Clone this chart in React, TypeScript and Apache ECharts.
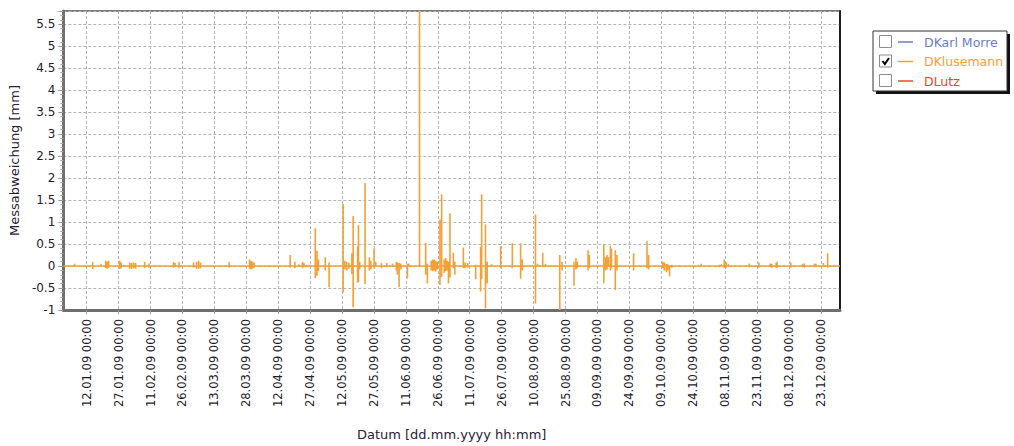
import React, { useEffect, useRef } from "react";
import * as echarts from "echarts";

// Legend entries (only DKlusemann is switched on)
const seriesNames = ["DKarl Morre", "DKlusemann", "DLutz"];
const seriesChecked = [false, true, false];

// Axis extents and ticks
const rangeStart = "2009-01-01";
const rangeEnd = "2010-01-01";
const xTickDates = [
  "2009-01-12", "2009-01-27", "2009-02-11", "2009-02-26", "2009-03-13", "2009-03-28",
  "2009-04-12", "2009-04-27", "2009-05-12", "2009-05-27", "2009-06-11", "2009-06-26",
  "2009-07-11", "2009-07-26", "2009-08-10", "2009-08-25", "2009-09-09", "2009-09-24",
  "2009-10-09", "2009-10-24", "2009-11-08", "2009-11-23", "2009-12-08", "2009-12-23",
];
const yMin = -1;
const yMax = 5.8;
const yStep = 0.5;

// DKlusemann deviations: [day of year 2009, peak (mm), trough (mm)];
// the signal rests on 0 mm between these events.
const klusemannEvents: [number, number, number][] = [
  [5.3, 0.05, -0.02], [13.8, 0.1, -0.07], [17.8, 0.04, 0], [19.9, 0.12, -0.05],
  [20.6, 0.1, -0.06], [21.3, 0.12, -0.04], [26.5, 0.12, -0.06], [27.2, 0.08, -0.05],
  [28.5, 0.03, 0], [31.2, 0.08, -0.06], [32.1, 0.07, -0.07], [33.1, 0.08, -0.05],
  [34.0, 0.07, -0.06], [38.2, 0.1, -0.05], [40.3, 0.06, -0.04], [51.8, 0.09, -0.04],
  [52.5, 0.07, 0], [54.4, 0.09, -0.05], [61.2, 0.08, -0.04], [62.6, 0.1, -0.06],
  [63.6, 0.12, -0.06], [64.5, 0.08, -0.05], [77.9, 0.1, -0.04], [87.5, 0.15, -0.06],
  [88.2, 0.12, -0.08], [88.9, 0.1, -0.06], [89.6, 0.08, -0.04], [106.6, 0.25, -0.04],
  [108.8, 0.1, -0.05], [110.7, 0.04, 0], [112.4, 0.1, -0.05], [113.1, 0.07, -0.03],
  [114.5, 0.03, -0.03], [115.9, 0.03, 0], [118.4, 0.86, -0.28], [119.2, 0.35, -0.22],
  [119.9, 0.15, -0.12], [123.1, 0.2, -0.1], [124.9, 0.08, -0.48], [131.5, 1.41, -0.6],
  [132.3, 0.12, -0.08], [133.2, 0.1, -0.1], [134.2, 0.08, -0.06], [135.6, 0.29, -0.18],
  [136.2, 1.14, -0.94], [138.3, 0.45, -0.38], [138.7, 0.93, -0.36], [139.3, 0.1, -0.08],
  [141.8, 1.89, -0.41], [143.8, 0.2, -0.1], [144.5, 0.12, -0.08], [146.0, 0.4, -0.05],
  [146.8, 0.1, 0], [149.5, 0.07, -0.05], [152.0, 0.07, -0.03], [154.7, 0.06, -0.02],
  [156.5, 0.1, -0.1], [157.0, 0.08, -0.2], [157.8, 0.07, -0.48], [158.6, 0.06, -0.08],
  [161.7, 0.05, -0.28], [162.3, 0.06, 0], [167.4, 5.9, 0], [170.3, 0.53, -0.2],
  [171.1, 0.05, -0.4], [172.9, 0.12, -0.1], [173.6, 0.15, -0.12], [174.3, 0.14, -0.1],
  [175.0, 0.12, -0.13], [175.7, 0.1, -0.08], [177.0, 1.06, -0.43], [177.8, 1.63, -0.25],
  [179.0, 0.15, -0.15], [179.7, 0.18, -0.12], [180.4, 0.12, -0.1], [181.0, 0.1, -0.4],
  [181.7, 1.2, -0.26], [183.3, 0.3, -0.05], [184.0, 0.1, -0.2], [188.0, 0.42, -0.05],
  [188.8, 0.08, -0.05], [190.0, 0.07, -0.04], [193.8, 0.03, -0.3], [196.1, 0.44, -0.58],
  [196.6, 1.63, -0.3], [198.4, 0.95, -0.96], [199.2, 0.1, -0.4], [201.3, 0.04, 0],
  [205.5, 0.45, -0.05], [211.0, 0.52, -0.05], [214.9, 0.52, -0.29], [215.7, 0.15, -0.1],
  [221.9, 1.17, -0.85], [222.9, 0.05, 0], [225.3, 0.3, -0.03], [226.6, 0.05, 0],
  [233.3, 0.25, -1.0], [234.4, 0.1, -0.1], [240.0, 0.1, -0.45], [240.9, 0.18, -0.08],
  [241.6, 0.1, -0.05], [246.6, 0.36, -0.1], [247.2, 0.25, -0.05], [254.0, 0.5, -0.39],
  [254.8, 0.2, -0.1], [255.5, 0.25, -0.08], [256.2, 0.2, 0], [257.1, 0.46, -0.1],
  [257.6, 0.4, -0.05], [259.4, 0.36, -0.55], [260.2, 0.25, -0.1], [268.0, 0.29, -0.1],
  [274.3, 0.57, -0.05], [275.1, 0.25, -0.08], [281.7, 0.1, -0.05], [282.4, 0.08, -0.1],
  [283.4, 0.05, -0.14], [284.1, 0.04, -0.1], [284.9, 0, -0.24], [286.0, 0.03, -0.04],
  [289.9, 0.02, 0], [295.8, 0.02, -0.02], [297.0, 0.02, -0.03], [299.8, 0.05, 0],
  [306.8, 0, -0.03], [308.2, 0.03, -0.03], [309.2, 0.04, 0], [310.6, 0.15, -0.05],
  [311.5, 0.08, -0.04], [312.5, 0.05, 0], [322.4, 0.06, -0.03], [326.9, 0.08, -0.04],
  [332.2, 0.06, -0.03], [332.9, 0.05, -0.04], [335.0, 0.08, -0.04], [335.4, 0.1, -0.05],
  [341.9, 0.08, -0.04], [347.4, 0.05, -0.03], [348.3, 0.06, -0.04], [353.0, 0.06, -0.03],
  [353.7, 0.05, -0.02], [357.2, 0.07, -0.02], [359.2, 0.29, -0.04],
];

const COLORS = ["#6b7cc6", "#f5a036", "#f0461e"];
const FONT = "'DejaVu Sans', Verdana, sans-serif";
const DAY_MS = 86400000;

const toTime = (iso: string) => Date.parse(iso + "T00:00:00Z");
const pad2 = (n: number) => (n < 10 ? "0" + n : String(n));
const formatTick = (v: number) => {
  const d = new Date(v);
  return `${pad2(d.getUTCDate())}.${pad2(d.getUTCMonth() + 1)}.${pad2(d.getUTCFullYear() % 100)} 00:00`;
};

function buildKlusemann(): [number, number][] {
  const t0 = toTime(rangeStart);
  const out: [number, number][] = [[t0, 0]];
  for (const [day, hi, lo] of klusemannEvents) {
    const t = t0 + day * DAY_MS;
    out.push([t, 0], [t, hi], [t, lo], [t, 0]);
  }
  out.push([toTime(rangeEnd), 0]);
  return out;
}

function legendGraphic() {
  const left = 873;
  const top = 31;
  const w = 134;
  const h = 60;
  const rowY = [42, 61.5, 81];
  const children: any[] = [
    { type: "rect", shape: { x: left + 3, y: top + 3, width: w, height: h }, style: { fill: "#111" } },
    { type: "rect", shape: { x: left, y: top, width: w, height: h }, style: { fill: "#fff", stroke: "#333", lineWidth: 1 } },
  ];
  seriesNames.forEach((name, i) => {
    const cy = rowY[i];
    children.push({
      type: "rect",
      shape: { x: 879.5, y: cy - 6.5, width: 12, height: 12 },
      style: { fill: "#fff", stroke: "#8c8c8c", lineWidth: 1 },
    });
    if (seriesChecked[i]) {
      children.push({
        type: "polyline",
        shape: { points: [[882.5, cy - 0.5], [884.8, cy + 2.5], [889, cy - 3.5]] },
        style: { stroke: "#000", lineWidth: 2, fill: null },
      });
    }
    children.push({
      type: "line",
      shape: { x1: 898, y1: cy, x2: 913, y2: cy },
      style: { stroke: COLORS[i], lineWidth: 1.5 },
    });
    children.push({
      type: "text",
      x: 924,
      y: cy,
      style: { text: name, fill: COLORS[i], font: `12.5px ${FONT}`, verticalAlign: "middle", align: "left" },
    });
  });
  return { type: "group", children };
}

export default function App() {
  const ref = useRef<HTMLDivElement>(null);

  useEffect(() => {
    if (!ref.current) return;
    const chart = echarts.init(ref.current, null, { renderer: "svg" });
    const xTicks = xTickDates.map(toTime);
    const gridLine = { show: true, lineStyle: { color: "#b4b4b4", type: [3, 2] as any, width: 1 } };

    chart.setOption({
      animation: false,
      backgroundColor: "#fff",
      textStyle: { fontFamily: FONT },
      grid: {
        left: 62,
        right: 174,
        top: 11,
        bottom: 136,
        show: true,
        borderColor: "#7a7a7a",
        borderWidth: 2,
        backgroundColor: "#fff",
      },
      xAxis: {
        type: "value",
        min: toTime(rangeStart),
        max: toTime(rangeEnd),
        name: "Datum [dd.mm.yyyy hh:mm]",
        nameLocation: "middle",
        nameGap: 118,
        nameTextStyle: { fontSize: 13, color: "#2a2233", fontFamily: FONT },
        axisLine: { show: true, onZero: false, lineStyle: { color: "#6e6e6e", width: 3 } },
        axisTick: { show: true, customValues: xTicks, length: 4, lineStyle: { color: "#999" } },
        axisLabel: {
          customValues: xTicks,
          rotate: 90,
          margin: 9,
          fontSize: 11.5,
          color: "#1c1c2a",
          fontFamily: FONT,
          formatter: formatTick,
        },
        splitLine: gridLine,
      },
      yAxis: [
        {
          type: "value",
          min: yMin,
          max: yMax,
          interval: yStep,
          name: "Messabweichung [mm]",
          nameLocation: "middle",
          nameRotate: 90,
          nameGap: 41,
          nameTextStyle: { fontSize: 13, color: "#2a2233", fontFamily: FONT },
          axisLine: { show: true, lineStyle: { color: "#6e6e6e", width: 3 } },
          axisTick: { show: true, length: 5, lineStyle: { color: "#999" } },
          minorTick: { show: true, splitNumber: 5, length: 3, lineStyle: { color: "#aaa" } },
          axisLabel: { fontSize: 12, color: "#1c1c2a", margin: 8, showMaxLabel: false, fontFamily: FONT },
          splitLine: gridLine,
        },
        {
          type: "value",
          position: "right",
          min: yMin,
          max: yMax,
          interval: yStep,
          axisLine: { show: true, lineStyle: { color: "#000", width: 1.5 } },
          axisTick: { show: false },
          axisLabel: { show: false },
          splitLine: { show: false },
        },
      ],
      series: [
        {
          name: seriesNames[1],
          type: "line",
          xAxisIndex: 0,
          yAxisIndex: 0,
          data: buildKlusemann(),
          showSymbol: false,
          symbol: "none",
          clip: true,
          lineStyle: { color: COLORS[1], width: 1.6 },
          itemStyle: { color: COLORS[1] },
        },
      ],
      graphic: [legendGraphic()],
    });

    return () => chart.dispose();
  }, []);

  return (
    <div
      ref={ref}
      style={{ position: "fixed", left: 0, top: 0, width: 1014, height: 446, background: "#fff" }}
    />
  );
}
